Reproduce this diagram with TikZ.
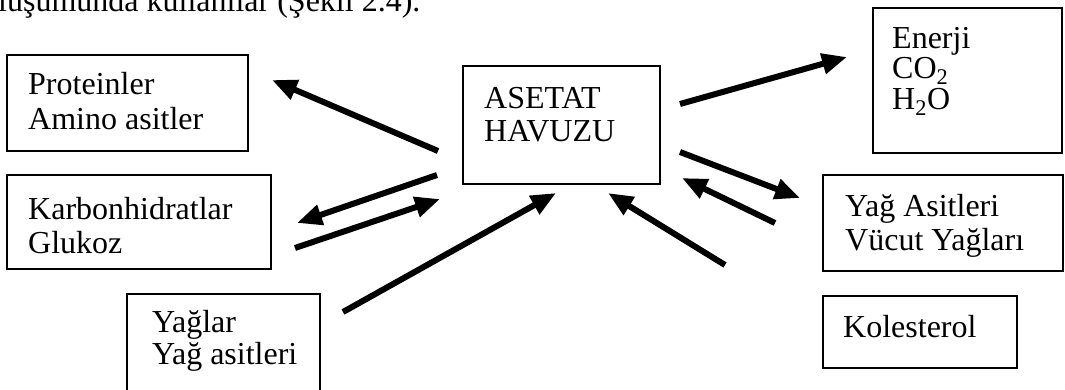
\documentclass[tikz,border=0pt]{standalone}
\usepackage{fontspec}
\setmainfont{Liberation Serif}
\usetikzlibrary{arrows.meta}

\tikzset{
  box/.style={draw=black, line width=1.4pt, fill=none},
  lbl/.style={inner sep=0pt, anchor=base west, font=\fontsize{32}{34}\selectfont},
  flow/.style={line width=6pt, -{Triangle[length=25pt, width=20pt]}}
}

\begin{document}
\begin{tikzpicture}[x=1pt, y=-1pt]
  \useasboundingbox (0,0) rectangle (1065,389);
  \clip (0,0) rectangle (1065,389);

  % running text line above the figure
  \node[lbl] (intro) at (-2,11) {luşumunda kullanılar (Şekil 2.4).};

  % boxes
  \draw[box] (7,55) rectangle (248,151) node[inner sep=0pt] (prot) {};
  \draw[box] (7,175) rectangle (271,269) node[inner sep=0pt] (karb) {};
  \draw[box] (127,294) rectangle (320,400) node[inner sep=0pt] (yag) {};
  \draw[box] (463,66) rectangle (660,184) node[inner sep=0pt] (pool) {};
  \draw[box] (873,8) rectangle (1062,153) node[inner sep=0pt] (enerji) {};
  \draw[box] (823,175) rectangle (1063,271) node[inner sep=0pt] (yagas) {};
  \draw[box] (823,296) rectangle (1017,368) node[inner sep=0pt] (koles) {};

  % box labels
  \node[lbl] (protA) at (28,94) {Proteinler};
  \node[lbl] (protB) at (28,129) {Amino asitler};
  \node[lbl] (karbA) at (28,219) {Karbonhidratlar};
  \node[lbl] (karbB) at (28,253) {Glukoz};
  \node[lbl] (yagA) at (152,332) {Yağlar};
  \node[lbl] (yagB) at (152,364) {Yağ asitleri};
  \node[lbl] (poolA) at (484,108) {ASETAT};
  \node[lbl] (poolB) at (484,141) {HAVUZU};
  \node[lbl] (enA) at (892,48) {Enerji};
  \node[lbl] (enB) at (892,78) {CO\textsubscript{2}};
  \node[lbl] (enC) at (892,109) {H\textsubscript{2}O};
  \node[lbl] (yaA) at (845,216) {Yağ Asitleri};
  \node[lbl] (yaB) at (845,250) {Vücut Yağları};
  \node[lbl] (koA) at (843,337) {Kolesterol};

  % arrow end points
  \coordinate (p1s) at (438,151); \coordinate (p1e) at (272,80);
  \coordinate (p2s) at (437,175); \coordinate (p2e) at (297,223);
  \coordinate (p3s) at (295,248); \coordinate (p3e) at (440,199);
  \coordinate (p4s) at (343,312); \coordinate (p4e) at (556,193);
  \coordinate (p5s) at (725,265); \coordinate (p5e) at (608,193);
  \coordinate (p6s) at (775,223); \coordinate (p6e) at (682,178);
  \coordinate (p7s) at (680,152); \coordinate (p7e) at (800,198);
  \coordinate (p8s) at (680,104); \coordinate (p8e) at (847,57);

  % flows into and out of the acetate pool
  \draw[flow] (p1s) -- (p1e);
  \draw[flow] (p2s) -- (p2e);
  \draw[flow] (p3s) -- (p3e);
  \draw[flow] (p4s) -- (p4e);
  \draw[flow] (p5s) -- (p5e);
  \draw[flow] (p6s) -- (p6e);
  \draw[flow] (p7s) -- (p7e);
  \draw[flow] (p8s) -- (p8e);
\end{tikzpicture}
\end{document}
